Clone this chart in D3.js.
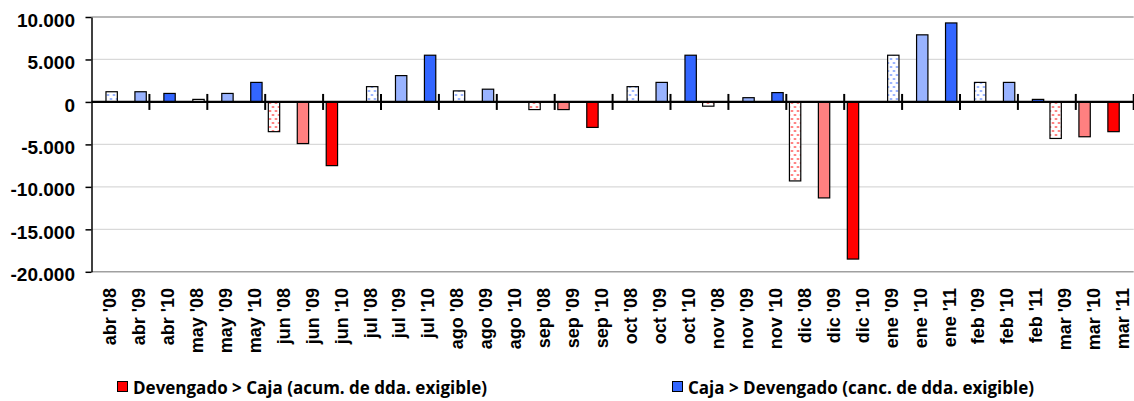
<!DOCTYPE html>
<html>
<head>
<meta charset="utf-8">
<script src="https://cdn.jsdelivr.net/npm/d3@7"></script>
<style>
  body { margin: 0; background: #fff; }
  svg { display: block; font-family: "Open Sans", "Noto Sans", sans-serif; }
  .yAxis text { font-size: 19px; font-weight: bold; fill: #000; }
  .xAxis text { font-size: 18px; font-weight: bold; fill: #000; }
  .legend text { font-size: 17px; font-weight: bold; fill: #000; }
</style>
</head>
<body>
<div id="chart"></div>
<script>
// Categories (month + year)
var months = ["abr '08", "abr '09", "abr '10", "may '08", "may '09", "may '10",
    "jun '08", "jun '09", "jun '10", "jul '08", "jul '09", "jul '10",
    "ago '08", "ago '09", "ago '10", "sep '08", "sep '09", "sep '10",
    "oct '08", "oct '09", "oct '10", "nov '08", "nov '09", "nov '10",
    "dic '08", "dic '09", "dic '10", "ene '09", "ene '10", "ene '11",
    "feb '09", "feb '10", "feb '11", "mar '09", "mar '10", "mar '11"];

// Devengado > Caja (red, negative)
var devengado = [0, 0, 0, 0, 0, 0,
    -3500, -4900, -7500, 0, 0, 0,
    0, 0, 0, -900, -900, -3000,
    0, 0, 0, -500, 0, 0,
    -9300, -11300, -18500, 0, 0, 0,
    0, 0, 0, -4300, -4100, -3500];

// Caja > Devengado (blue, positive)
var caja = [1200, 1200, 1000, 300, 1000, 2300,
    0, 0, 0, 1800, 3100, 5500,
    1300, 1500, 0, 0, 0, 0,
    1800, 2300, 5500, 0, 500, 1100,
    0, 0, 0, 5500, 7900, 9300,
    2300, 2300, 300, 0, 0, 0];

var seriesNames = ["Devengado > Caja (acum. de dda. exigible)", "Caja > Devengado (canc. de dda. exigible)"];
var yTicks = [-20000, -15000, -10000, -5000, 0, 5000, 10000];
var fillStyles = ["dots", "grid", "solid"];   // first, second, third year of each month

var svgWidth = 1134;
var svgHeight = 401;

var margin = { top: 17, bottom: 130, right: 0.3, left: 91.5 };
var chartWidth = svgWidth - margin.left - margin.right;
var chartHeight = svgHeight - margin.top - margin.bottom;

var colors = { dev: "#ff0000", caja: "#3366ff" };

var svg = d3.select('#chart')
    .append('svg')
    .attr('width', svgWidth)
    .attr('height', svgHeight);

// Patterns
var defs = svg.append('defs');
Object.keys(colors).forEach(function (key) {
    var c = colors[key];
    var dots = defs.append('pattern')
        .attr('id', 'dots-' + key)
        .attr('patternUnits', 'userSpaceOnUse')
        .attr('width', 6).attr('height', 8);
    dots.append('rect').attr('width', 6).attr('height', 8).attr('fill', '#fff');
    dots.append('circle').attr('cx', 1.5).attr('cy', 2).attr('r', 1.1).attr('fill', c).attr('opacity', 0.75);
    dots.append('circle').attr('cx', 4.5).attr('cy', 6).attr('r', 1.1).attr('fill', c).attr('opacity', 0.75);

    var grid = defs.append('pattern')
        .attr('id', 'grid-' + key)
        .attr('patternUnits', 'userSpaceOnUse')
        .attr('width', 2).attr('height', 2);
    grid.append('rect').attr('width', 2).attr('height', 2).attr('fill', '#fff');
    grid.append('rect').attr('width', 1).attr('height', 1).attr('fill', c);
    grid.append('rect').attr('x', 1).attr('y', 1).attr('width', 1).attr('height', 1).attr('fill', c);
});

var chartGroup = svg.append('g')
    .attr('transform', `translate(${margin.left}, ${margin.top})`);

// Scales
var xScale = d3.scaleBand()
    .domain(months)
    .range([0, chartWidth])
    .padding(0);

var xSub = d3.scaleBand()
    .domain(['dev', 'caja'])
    .range([0, xScale.bandwidth()])
    .paddingInner(0)
    .paddingOuter(0.275);

var yScale = d3.scaleLinear()
    .domain([-20000, 10000])
    .range([chartHeight + 0.8, 0]);

var locale = d3.formatLocale({ decimal: ",", thousands: ".", grouping: [3], currency: ["", ""], minus: "-" });
var fmt = locale.format(",.0f");

// Gridlines
chartGroup.append('g')
    .selectAll('line')
    .data(yTicks.filter(d => d !== 0))
    .enter()
    .append('line')
    .attr('x1', 0)
    .attr('x2', chartWidth)
    .attr('y1', d => yScale(d))
    .attr('y2', d => yScale(d))
    .attr('stroke', d => (d === 10000 || d === -20000) ? '#a0a0a0' : '#d9d9d9')
    .attr('stroke-width', d => (d === 10000 || d === -20000) ? 1.5 : 1.2);

// Y axis
var yAxis = d3.axisLeft(yScale)
    .tickValues(yTicks)
    .tickSize(6)
    .tickSizeOuter(0)
    .tickPadding(10.5)
    .tickFormat(fmt);

var yAxisG = chartGroup.append('g')
    .classed('yAxis', true)
    .call(yAxis);
yAxisG.select('.domain').attr('stroke', '#000').attr('stroke-width', 1.5);
yAxisG.selectAll('.tick line').attr('stroke', '#000').attr('stroke-width', 1.5);
yAxisG.selectAll('.tick text').attr('dy', '0.48em');

// Bars
var barData = [];
months.forEach(function (m, i) {
    barData.push({ month: m, key: 'dev', value: devengado[i], style: fillStyles[i % 3] });
    barData.push({ month: m, key: 'caja', value: caja[i], style: fillStyles[i % 3] });
});

chartGroup.append('g')
    .selectAll('rect')
    .data(barData.filter(d => d.value !== 0))
    .enter()
    .append('rect')
    .attr('x', d => xScale(d.month) + xSub(d.key))
    .attr('width', xSub.bandwidth())
    .attr('y', d => yScale(Math.max(0, d.value)))
    .attr('height', d => Math.abs(yScale(d.value) - yScale(0)))
    .attr('fill', d => d.style === 'solid' ? colors[d.key] : `url(#${d.style}-${d.key})`)
    .attr('stroke', '#000')
    .attr('stroke-width', 1.2);

// Zero line and category ticks (every two months)
chartGroup.append('line')
    .attr('x1', 0)
    .attr('x2', chartWidth)
    .attr('y1', yScale(0))
    .attr('y2', yScale(0))
    .attr('stroke', '#000')
    .attr('stroke-width', 2.2);

chartGroup.append('g')
    .selectAll('line')
    .data(months.filter((d, i) => i % 2 === 0 && i > 0).concat(['end']))
    .enter()
    .append('line')
    .attr('x1', d => d === 'end' ? chartWidth : xScale(d))
    .attr('x2', d => d === 'end' ? chartWidth : xScale(d))
    .attr('y1', yScale(0) - 8)
    .attr('y2', yScale(0) + 8)
    .attr('stroke', '#000')
    .attr('stroke-width', 2);

// X axis labels
var xAxis = d3.axisBottom(xScale).tickSize(0);
var xAxisG = chartGroup.append('g')
    .classed('xAxis', true)
    .attr('transform', `translate(0, ${288 - margin.top})`)
    .call(xAxis);
xAxisG.select('.domain').remove();
xAxisG.selectAll('.tick text')
    .attr('x', 0)
    .attr('y', 0)
    .attr('dy', '10px')
    .attr('transform', 'rotate(-90)')
    .style('text-anchor', 'end');

// Legend
var legend = svg.append('g').classed('legend', true);
var legendItems = [
    { name: seriesNames[0], color: colors.dev, x: 117 },
    { name: seriesNames[1], color: colors.caja, x: 672 }
];
legendItems.forEach(function (item) {
    legend.append('rect')
        .attr('x', item.x + 0.5)
        .attr('y', 381.5)
        .attr('width', 10)
        .attr('height', 10)
        .attr('fill', item.color)
        .attr('stroke', '#000')
        .attr('stroke-width', 1);
    legend.append('text')
        .attr('x', item.x + 16)
        .attr('y', 394)
        .text(item.name);
});
</script>
</body>
</html>
